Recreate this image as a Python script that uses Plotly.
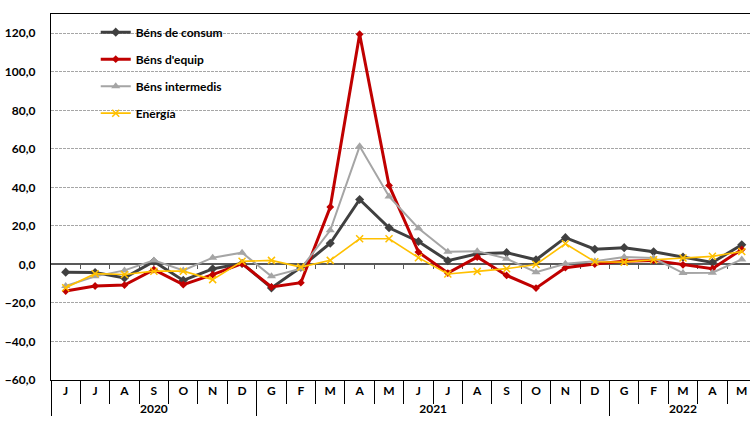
import plotly.graph_objects as go

# ---- data ----
months = ["J", "J", "A", "S", "O", "N", "D",
          "G", "F", "M", "A", "M", "J", "J", "A", "S", "O", "N", "D",
          "G", "F", "M", "A", "M"]
years = ["2020"] * 7 + ["2021"] * 12 + ["2022"] * 5

consum = [-4.0, -4.2, -7.0, 1.5, -8.3, -2.3, 0.5, -12.2, -1.5, 11.0, 33.7, 19.0,
          11.9, 1.9, 5.5, 6.1, 2.4, 13.9, 7.9, 8.7, 6.6, 3.8, 1.0, 10.2]
equip = [-13.8, -11.2, -10.7, -2.7, -10.5, -5.3, 0.4, -11.7, -9.5, 29.8, 119.5, 41.0,
         6.4, -4.5, 3.8, -5.7, -12.3, -1.7, 0.2, 1.6, 2.1, -0.2, -2.2, 7.8]
intermedis = [-11.2, -6.2, -3.1, 2.1, -3.1, 3.5, 6.1, -6.2, -2.2, 17.7, 61.3, 35.3,
              18.8, 6.6, 6.9, 3.0, -4.0, 0.3, 1.7, 3.8, 3.3, -4.5, -4.3, 2.6]
energia = [-12.1, -4.8, -5.2, -3.5, -3.5, -7.9, 1.6, 2.1, -1.4, 2.1, 13.3, 13.3,
           3.5, -5.0, -3.6, -2.2, 0.0, 10.7, 1.4, 1.2, 2.4, 3.3, 4.2, 6.7]

series_names = ["Béns de consum", "Béns d'equip", "Béns intermedis", "Energía"]

# inner labels for the multicategory axis: invisible zero-width prefixes keep
# the chronological order (plotly sorts multicategory labels) and make repeats unique
pos_in_year = {}
month_keys = []
for yr, m in zip(years, months):
    k = pos_in_year.get(yr, 0)
    pos_in_year[yr] = k + 1
    month_keys.append("\u200b" * k + m)
xcat = [years, month_keys]

FONT = "Lato"
styles = [
    dict(color="#404040", width=3, symbol="diamond", size=7),
    dict(color="#C00000", width=3, symbol="diamond", size=6),
    dict(color="#A5A5A5", width=2, symbol="triangle-up", size=8),
    dict(color="#FFC000", width=1.6, symbol="x-thin", size=7),
]

fig = go.Figure()
for i, (name, vals) in enumerate(zip(series_names, [consum, equip, intermedis, energia])):
    s = styles[i]
    marker = dict(symbol=s["symbol"], size=s["size"], color=s["color"])
    if s["symbol"] == "x-thin":
        marker["line"] = dict(color=s["color"], width=1.5)
    fig.add_trace(go.Scatter(
        x=xcat, y=vals, name=name, mode="lines+markers",
        line=dict(color=s["color"], width=s["width"]),
        marker=marker, legendgroup=name,
    ))

# dummy trace for the zero axis with boundary ticks
fig.add_trace(go.Scatter(x=[0], y=[None], xaxis="x2", showlegend=False,
                         hoverinfo="skip", mode="lines"))

ymin, ymax = -60, 130
xr = [-0.5, 23.28]

fig.update_layout(
    width=750, height=422,
    margin=dict(l=51, r=0, t=14, b=42),
    paper_bgcolor="white", plot_bgcolor="white",
    separators=",.",
    font=dict(family=FONT, size=12, color="black", weight="bold"),
    showlegend=True,
    legend=dict(x=0.064, y=0.99, xanchor="left", yanchor="top",
                bgcolor="rgba(0,0,0,0)", tracegroupgap=8,
                font=dict(family=FONT, size=12, color="black", weight="bold")),
    xaxis=dict(
        type="multicategory", range=xr, automargin=False,
        showline=True, linecolor="black", linewidth=1.3, mirror=True,
        ticks="outside", tickson="boundaries", ticklen=23, tickcolor="black", tickwidth=1,
        showdividers=True, dividercolor="black", dividerwidth=1,
        showgrid=False, zeroline=False, ticklabelstandoff=-1,
        tickfont=dict(family=FONT, size=12, color="black", weight="bold"),
    ),
    xaxis2=dict(
        overlaying="x", anchor="free", position=(0 - ymin) / (ymax - ymin),
        type="linear", range=xr, side="bottom",
        tickmode="array", tickvals=[i + 0.5 for i in range(23)],
        ticks="outside", ticklen=4, tickcolor="#595959", tickwidth=1.2,
        showticklabels=False, showline=True, linecolor="#595959", linewidth=1.5,
        showgrid=False, zeroline=False, layer="below traces",
    ),
    yaxis=dict(
        range=[ymin, ymax], tick0=-60, dtick=20, tickformat=".1f", automargin=False,
        showline=True, linecolor="black", linewidth=1.3,
        showgrid=True, gridcolor="#A6A6A6", gridwidth=1, griddash="3px,1px",
        zeroline=False, ticks="", ticklabelstandoff=12,
        tickfont=dict(family=FONT, size=12, color="black", weight="bold"),
    ),
)

fig.write_html("out.html", config={"displayModeBar": False},
               post_script="document.body.style.margin='0';")
